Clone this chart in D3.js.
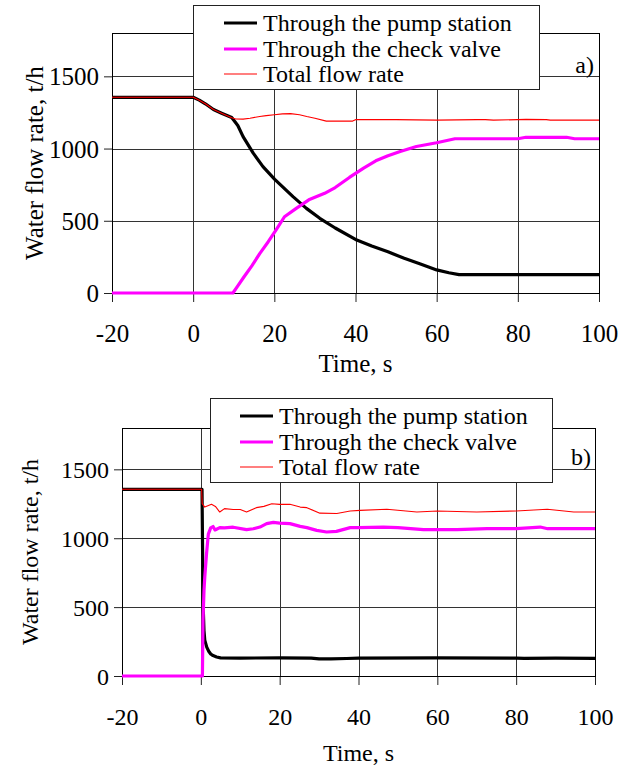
<!DOCTYPE html>
<html><head><meta charset="utf-8">
<script src="https://cdn.jsdelivr.net/npm/d3@7"></script>
<style>body{margin:0;background:#fff}svg{display:block}</style>
</head><body>
<script>
// ---------- data ----------
const xTicks = [-20, 0, 20, 40, 60, 80, 100];
const yTicks = [0, 500, 1000, 1500];
const xGrid = [0, 20, 40, 60, 80];
const yGrid = [500, 1000, 1500];
const seriesNames = ["Through the pump station", "Through the check valve", "Total flow rate"];
const xTitle = "Time, s";
const yTitle = "Water flow rate, t/h";
const panelTags = ["a)", "b)"];

// panel a
const tPumpA = [-20, 0, 1.5, 3, 5, 7, 9.5, 11, 12.3, 14.8, 17.2, 20.1, 24.6, 27.9, 31.2, 35, 40, 44, 48, 52, 56, 60, 63, 65.5, 80, 100];
const qPumpA = [1355, 1355, 1335, 1310, 1270, 1245, 1215, 1160, 1083, 968, 875, 787, 667, 586, 517, 450, 371, 325, 285, 240, 200, 160, 140, 127, 127, 127];
const tValveA = [-20, 9.8, 11, 12.5, 14.5, 16.4, 18.5, 20.4, 22.5, 25.4, 28.5, 32.4, 35, 38.5, 42, 45, 48, 51, 55, 60, 64.5, 70, 80, 82, 92, 94, 100];
const qValveA = [0, 0, 50, 111, 190, 273, 355, 435, 528, 586, 645, 690, 730, 800, 865, 915, 950, 980, 1014, 1040, 1068, 1068, 1068, 1078, 1078, 1068, 1068];
const tTotalA = [-20, 0, 1.5, 3, 5, 7, 9.5, 10.5, 12.3, 14, 16.4, 18, 20, 22, 24, 26.2, 28, 30, 32.8, 39.3, 40, 50, 60, 70, 72, 74, 80, 82, 87, 88, 100];
const qTotalA = [1355, 1355, 1335, 1310, 1270, 1245, 1213, 1205, 1204, 1210, 1222, 1228, 1234, 1240, 1242, 1234, 1222, 1210, 1190, 1190, 1200, 1200, 1197, 1200, 1200, 1197, 1200, 1202, 1200, 1197, 1197];

// panel b
const tPumpB = [-20, 0.3, 0.45, 0.6, 0.8, 1.0, 1.5, 2, 2.5, 3.1, 4, 5, 10, 20, 28, 30, 33, 37, 40, 60, 80, 82, 90, 100];
const qPumpB = [1355, 1355, 900, 500, 330, 260, 210, 180, 160, 148, 138, 132, 130, 132, 130, 124, 124, 127, 130, 132, 130, 128, 130, 128];
const tValveB = [-20, 0.4, 0.55, 0.8, 1.0, 1.45, 1.9, 2.5, 3.1, 3.6, 4.8, 6, 8.2, 11.6, 13.3, 15, 16.7, 18.4, 20, 22.6, 25.2, 26.9, 29.4, 31.9, 34.4, 37.9, 40, 46.3, 50, 56.5, 65, 72.6, 80, 86.1, 88, 100];
const qValveB = [0, 0, 400, 620, 718, 888, 1030, 1075, 1085, 1060, 1077, 1075, 1080, 1062, 1069, 1081, 1106, 1115, 1110, 1106, 1086, 1077, 1057, 1045, 1050, 1077, 1077, 1081, 1077, 1062, 1062, 1069, 1069, 1081, 1069, 1069];
const tTotalB = [-20, 0.2, 0.35, 1.0, 2.7, 3.7, 4.8, 6, 8.2, 10, 11.6, 14.1, 16, 18, 20, 22.6, 25.2, 26.9, 30.2, 34.5, 37.9, 40.4, 47.2, 54.8, 60, 70, 80, 87.9, 94.6, 100];
const qTotalB = [1355, 1355, 1251, 1226, 1246, 1231, 1190, 1215, 1209, 1209, 1190, 1222, 1231, 1250, 1246, 1246, 1226, 1222, 1182, 1179, 1198, 1202, 1210, 1190, 1198, 1190, 1198, 1210, 1190, 1190];

// ---------- layout ----------
const W = 634, H = 769;
const FONT = "'Liberation Serif','Times New Roman',serif";
const styles = [
  {color: "#000000", width: 3.2, lw: 3.2},
  {color: "#ff00ff", width: 3.2, lw: 3.2},
  {color: "#ff0000", width: 1.1, lw: 1.1}
];

const panels = [
  {left: 112, right: 599, top: 33, bottom: 293, fs: 25,
   legend: {x: 193, y: 5, w: 346, h: 84, s1: 224, s2: 257, tx: 263, rows: [23, 49, 74]},
   tag: panelTags[0], tagX: 594, tagY: 65, tickLabGap: 40, titleY: 363, yTitleX: 34,
   series: [[tPumpA, qPumpA], [tValveA, qValveA], [tTotalA, qTotalA]]},
  {left: 122, right: 595, top: 428, bottom: 676, fs: 24,
   legend: {x: 210, y: 398, w: 342, h: 84, s1: 240, s2: 273, tx: 279, rows: [416, 442, 467]},
   tag: panelTags[1], tagX: 591, tagY: 457, tickLabGap: 41, titleY: 753, yTitleX: 30,
   series: [[tPumpB, qPumpB], [tValveB, qValveB], [tTotalB, qTotalB]]}
];

const fmt = d => String(d);

const svg = d3.select("body").append("svg").attr("width", W).attr("height", H)
  .style("font-family", FONT);
svg.append("rect").attr("width", W).attr("height", H).attr("fill", "#fff");

panels.forEach(p => {
  const x = d3.scaleLinear().domain([-20, 100]).range([p.left, p.right]);
  const y = d3.scaleLinear().domain([0, 1800]).range([p.bottom, p.top]);
  const g = svg.append("g");

  // gridlines
  g.selectAll(".hg").data(yGrid).enter().append("line")
    .attr("x1", p.left).attr("x2", p.right)
    .attr("y1", d => Math.round(y(d)) + 0.5).attr("y2", d => Math.round(y(d)) + 0.5)
    .attr("stroke", "#333").attr("stroke-width", 1);
  g.selectAll(".vg").data(xGrid).enter().append("line")
    .attr("y1", p.top).attr("y2", p.bottom)
    .attr("x1", d => Math.round(x(d)) + 0.5).attr("x2", d => Math.round(x(d)) + 0.5)
    .attr("stroke", "#333").attr("stroke-width", 1);

  // axes
  const ya = g.append("g").attr("transform", `translate(${p.left},0)`)
    .call(d3.axisLeft(y).tickValues(yTicks).tickFormat(fmt).tickSize(8).tickSizeOuter(0).tickPadding(5));
  const xa = g.append("g").attr("transform", `translate(0,${p.bottom})`)
    .call(d3.axisBottom(x).tickValues(xTicks).tickFormat(fmt).tickSize(9).tickSizeOuter(0).tickPadding(0));
  [ya, xa].forEach(a => {
    a.select(".domain").remove();
    a.selectAll("line").attr("stroke", "#222");
    a.selectAll("text").attr("font-size", p.fs).attr("font-family", FONT).attr("fill", "#000");
  });
  ya.selectAll("text").attr("dy", "0.34em");
  xa.selectAll("text").attr("y", p.tickLabGap).attr("dy", "0.34em");

  // border
  g.append("rect").attr("x", p.left + 0.5).attr("y", p.top + 0.5)
    .attr("width", p.right - p.left).attr("height", p.bottom - p.top)
    .attr("fill", "none").attr("stroke", "#000").attr("stroke-width", 1);

  // series
  const line = d3.line().x(d => x(d[0])).y(d => y(d[1]));
  p.series.forEach((s, i) => {
    const pts = s[0].map((t, k) => [t, s[1][k]]);
    g.append("path").datum(pts).attr("d", line)
      .attr("fill", "none").attr("stroke", styles[i].color)
      .attr("stroke-width", styles[i].width).attr("stroke-linejoin", "round");
  });

  // legend
  const L = p.legend;
  g.append("rect").attr("x", L.x + 0.5).attr("y", L.y + 0.5).attr("width", L.w).attr("height", L.h)
    .attr("fill", "#fff").attr("stroke", "#222").attr("stroke-width", 1);
  seriesNames.forEach((n, i) => {
    g.append("line").attr("x1", L.s1).attr("x2", L.s2).attr("y1", L.rows[i]).attr("y2", L.rows[i])
      .attr("stroke", styles[i].color).attr("stroke-width", styles[i].lw);
    g.append("text").attr("x", L.tx).attr("y", L.rows[i]).attr("dy", "0.34em")
      .attr("font-size", 24).text(n);
  });

  // tag
  g.append("text").attr("x", p.tagX).attr("y", p.tagY).attr("dy", "0.34em")
    .attr("text-anchor", "end").attr("font-size", 24).text(p.tag);

  // titles
  g.append("text").attr("x", (p.left + p.right) / 2).attr("y", p.titleY).attr("dy", "0.34em")
    .attr("text-anchor", "middle").attr("font-size", p.fs).text(xTitle);
  g.append("text").attr("transform", `translate(${p.yTitleX},${(p.top + p.bottom) / 2}) rotate(-90)`)
    .attr("text-anchor", "middle").attr("dy", "0.34em").attr("font-size", p.fs).text(yTitle);
});
</script>
</body></html>
